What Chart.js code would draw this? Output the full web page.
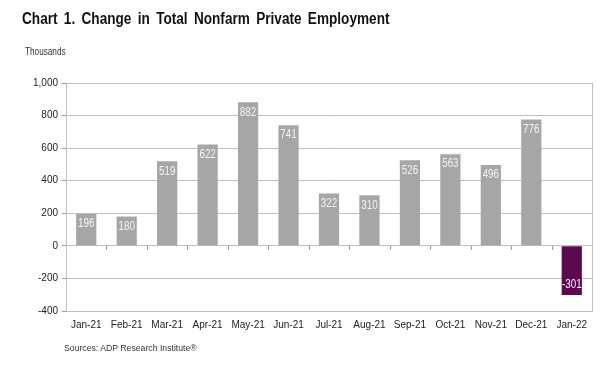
<!DOCTYPE html>
<html>
<head>
<meta charset="utf-8">
<script src="https://cdn.jsdelivr.net/npm/chart.js@4"></script>
<style>
  body { margin: 0; background: #fff; font-family: Arial, "Liberation Sans", sans-serif; }
  #wrap { position: relative; width: 607px; height: 369px; }
  #title { position: absolute; left: 22px; top: 10px; font-size: 16px; font-weight: bold; color: #111; word-spacing: 3px; white-space: nowrap; transform: scaleX(0.85); transform-origin: left top; }
  #units { position: absolute; left: 25px; top: 46px; font-size: 10px; color: #333; transform: scaleX(0.82); transform-origin: left top; }
  #source { position: absolute; left: 64px; top: 343px; font-size: 8.7px; color: #333; }
  canvas { position: absolute; left: 0; top: 0; }
</style>
</head>
<body>
<div id="wrap">
  <canvas id="chart" width="607" height="369"></canvas>
  <div id="title">Chart 1. Change in Total Nonfarm Private Employment</div>
  <div id="units">Thousands</div>
  <div id="source">Sources: ADP Research Institute®</div>
</div>
<script>
const months = ['Jan-21', 'Feb-21', 'Mar-21', 'Apr-21', 'May-21', 'Jun-21', 'Jul-21', 'Aug-21', 'Sep-21', 'Oct-21', 'Nov-21', 'Dec-21', 'Jan-22'];
const jobs = [196, 180, 519, 622, 882, 741, 322, 310, 526, 563, 496, 776, -301];
const barColors = ['#a6a6a6', '#a6a6a6', '#a6a6a6', '#a6a6a6', '#a6a6a6', '#a6a6a6', '#a6a6a6', '#a6a6a6', '#a6a6a6', '#a6a6a6', '#a6a6a6', '#a6a6a6', '#5c0a50'];

const font = 'Arial, "Liberation Sans", sans-serif';

// labels inside the bar end, tick marks on the zero line, box border
const extras = {
  id: 'extras',
  afterDatasetsDraw(chart) {
    const ctx = chart.ctx;
    const x = chart.scales.x, y = chart.scales.y;
    const area = chart.chartArea;
    const zero = y.getPixelForValue(0);
    ctx.save();
    ctx.strokeStyle = '#999';
    ctx.lineWidth = 1;
    ctx.beginPath();
    for (let i = 1; i < months.length; i++) {
      const px = Math.round((x.getPixelForValue(i - 1) + x.getPixelForValue(i)) / 2) + 0.5;
      ctx.moveTo(px, zero);
      ctx.lineTo(px, zero + 4);
    }
    ctx.stroke();
    ctx.strokeStyle = '#bfbfbf';
    ctx.strokeRect(Math.round(area.left) + 0.5, Math.round(area.top) + 0.5,
      Math.round(area.right - area.left), Math.round(area.bottom - area.top));

    ctx.fillStyle = '#f4f4f4';
    ctx.font = '12px ' + font;
    ctx.textAlign = 'center';
    ctx.textBaseline = 'middle';
    chart.getDatasetMeta(0).data.forEach((bar, i) => {
      const v = jobs[i];
      const ty = v >= 0 ? bar.y + 10 : bar.y - 10;
      ctx.save();
      ctx.translate(bar.x, ty);
      ctx.scale(0.82, 1);   // squeezed look of the original
      ctx.fillText(String(v), 0, 0);
      ctx.restore();
    });
    ctx.restore();
  }
};

new Chart(document.getElementById('chart'), {
  type: 'bar',
  data: {
    labels: months,
    datasets: [{
      data: jobs,
      backgroundColor: barColors,
      barPercentage: 0.5,
      categoryPercentage: 1.0
    }]
  },
  options: {
    responsive: false,
    animation: false,
    layout: { padding: { left: 0, right: 15, top: 83, bottom: 0 } },
    plugins: {
      legend: { display: false },
      tooltip: { enabled: false }
    },
    scales: {
      x: {
        grid: { display: false },
        border: { display: false },
        ticks: {
          color: '#222',
          padding: 0,
          maxRotation: 0,
          autoSkip: false,
          font: { family: font, size: 10 }
        },
        afterFit(s) { s.height = 58; }
      },
      y: {
        min: -400,
        max: 1000,
        ticks: {
          stepSize: 200,
          color: '#222',
          padding: 4,
          font: { family: font, size: 10 }
        },
        grid: { color: '#bfbfbf', tickLength: 4, tickColor: '#999' },
        border: { color: '#999' },
        afterFit(s) { s.width = 66; }
      }
    }
  },
  plugins: [extras]
});
</script>
</body>
</html>
